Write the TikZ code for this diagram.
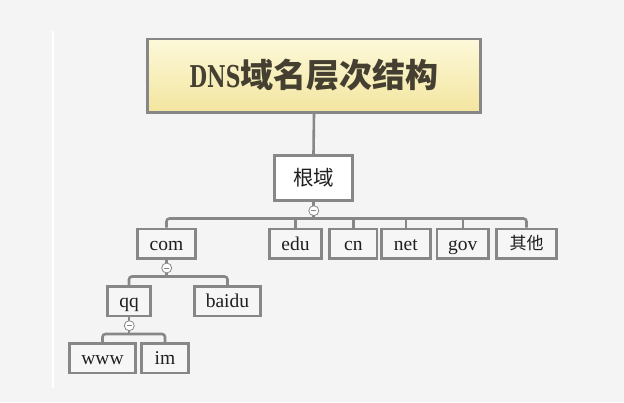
\documentclass[tikz,border=0pt]{standalone}
\usepackage{fontspec}
\setmainfont{Liberation Serif}
\newfontfamily\cjk{Noto Sans CJK SC}
\newfontfamily\slab[FakeStretch=0.68]{DejaVu Serif}
\definecolor{edge}{HTML}{878787}
\definecolor{paper}{HTML}{F4F4F4}
\definecolor{boxbg}{HTML}{F6F6F6}
\definecolor{titletop}{HTML}{FDF9DA}
\definecolor{titlebot}{HTML}{F3E59F}
\definecolor{titleink}{HTML}{443F30}
\tikzset{
  box/.style={
    rectangle, draw=edge, line width=2.6pt,
    fill=boxbg, inner sep=0pt,
    minimum height=29.6pt, text=black!88,
    text height=15pt, text depth=2pt,
    font=\fontsize{19.5}{21}\selectfont
  },
  headbox/.style={
    rectangle, draw=edge, line width=2.6pt,
    top color=titletop, bottom color=titlebot,
    minimum width=333.4pt, minimum height=73.4pt,
    text=titleink, font=\fontsize{30}{34}\selectfont
  },
  link/.style = {draw=edge, line width=2.6pt},
  bus/.style  = {link, rounded corners=3pt},
  fold/.style = {
    circle, draw=edge, line width=0.8pt, fill=white,
    minimum size=10pt, inner sep=0pt,
    path picture={\draw[edge, line width=0.8pt]
      ([xshift=-2.4pt]path picture bounding box.center) --
      ([xshift=2.4pt]path picture bounding box.center);}
  },
}

\begin{document}
\begin{tikzpicture}[x=1pt, y=-1pt]

%% ── Canvas ───────────────────────────────────────────────────────────────────
\fill[paper] (0,0) rectangle (624,402);
\useasboundingbox (0,0) rectangle (624,402);
\draw[white, line width=1.6pt] (53,31) -- (53,388);

%% ── Title and root ───────────────────────────────────────────────────────────
\node[headbox] (title) at (314,75.5)
  {{\slab\bfseries DNS}{\cjk\bfseries\fontsize{33}{35}\selectfont 域名层次结构}};
\node[box, fill=white, minimum width=78.4pt, minimum height=44.9pt,
      text height=, text depth=,
      font=\cjk\fontsize{20.5}{22}\selectfont] (root) at (313.5,178) {根域};

%% ── Row 2: com | edu cn net gov 其他 ──────────────────────────────────────────
\node[box, minimum width=58.4pt] (com) at (166.5,243.8) {com};
\node[box, minimum width=52.4pt] (edu) at (295.5,243.8) {edu};
\node[box, minimum width=47.4pt] (cn)  at (353.3,243.8) {cn};
\node[box, minimum width=49.1pt] (net) at (405.8,243.8) {net};
\node[box, minimum width=51.7pt] (gov) at (462.8,243.8) {gov};
\node[box, minimum width=60.4pt, text height=15pt, text depth=4pt,
      font=\cjk\fontsize{17}{19}\selectfont]
  (oth) at (526.5,243.8) {其他};

%% ── Row 3: qq | baidu ────────────────────────────────────────────────────────
\node[box, minimum width=43.4pt] (qq)    at (129,301)   {qq};
\node[box, minimum width=66.4pt] (baidu) at (227.5,301) {baidu};

%% ── Row 4: www | im ──────────────────────────────────────────────────────────
\node[box, minimum width=65.8pt] (www) at (102.5,358.2) {www};
\node[box, minimum width=47.4pt] (im)  at (165,358.2)   {im};

%% ── Title → root ─────────────────────────────────────────────────────────────
\draw[link] (title.south) -- (root.north);

%% ── Root → row 2 (bus) ───────────────────────────────────────────────────────
\coordinate (rbus) at (313.5,218.5);
\draw[link] (root.south) -- (rbus);
\draw[bus] (com.north) |- (rbus) -| (oth.north);
\foreach \n in {edu, cn, net, gov}
  \draw[link] (\n.north) -- (\n.north |- rbus);

%% ── com → qq, baidu ──────────────────────────────────────────────────────────
\coordinate (cbus) at (166.5,276.5);
\draw[link] (com.south) -- (cbus);
\draw[bus] (qq.north) |- (cbus) -| (baidu.north);

%% ── qq → www, im ─────────────────────────────────────────────────────────────
\coordinate (qbus) at (129,334);
\draw[link] (qq.south) -- (qbus);
\draw[bus] (www.north) |- (qbus) -| (im.north);

%% ── Fold markers ─────────────────────────────────────────────────────────────
\node[fold] (rootfold) at (313.8,210.7) {};
\node[fold] (comfold)  at (166.7,268)   {};
\node[fold] (qqfold)   at (129.3,325.7) {};

\end{tikzpicture}
\end{document}
